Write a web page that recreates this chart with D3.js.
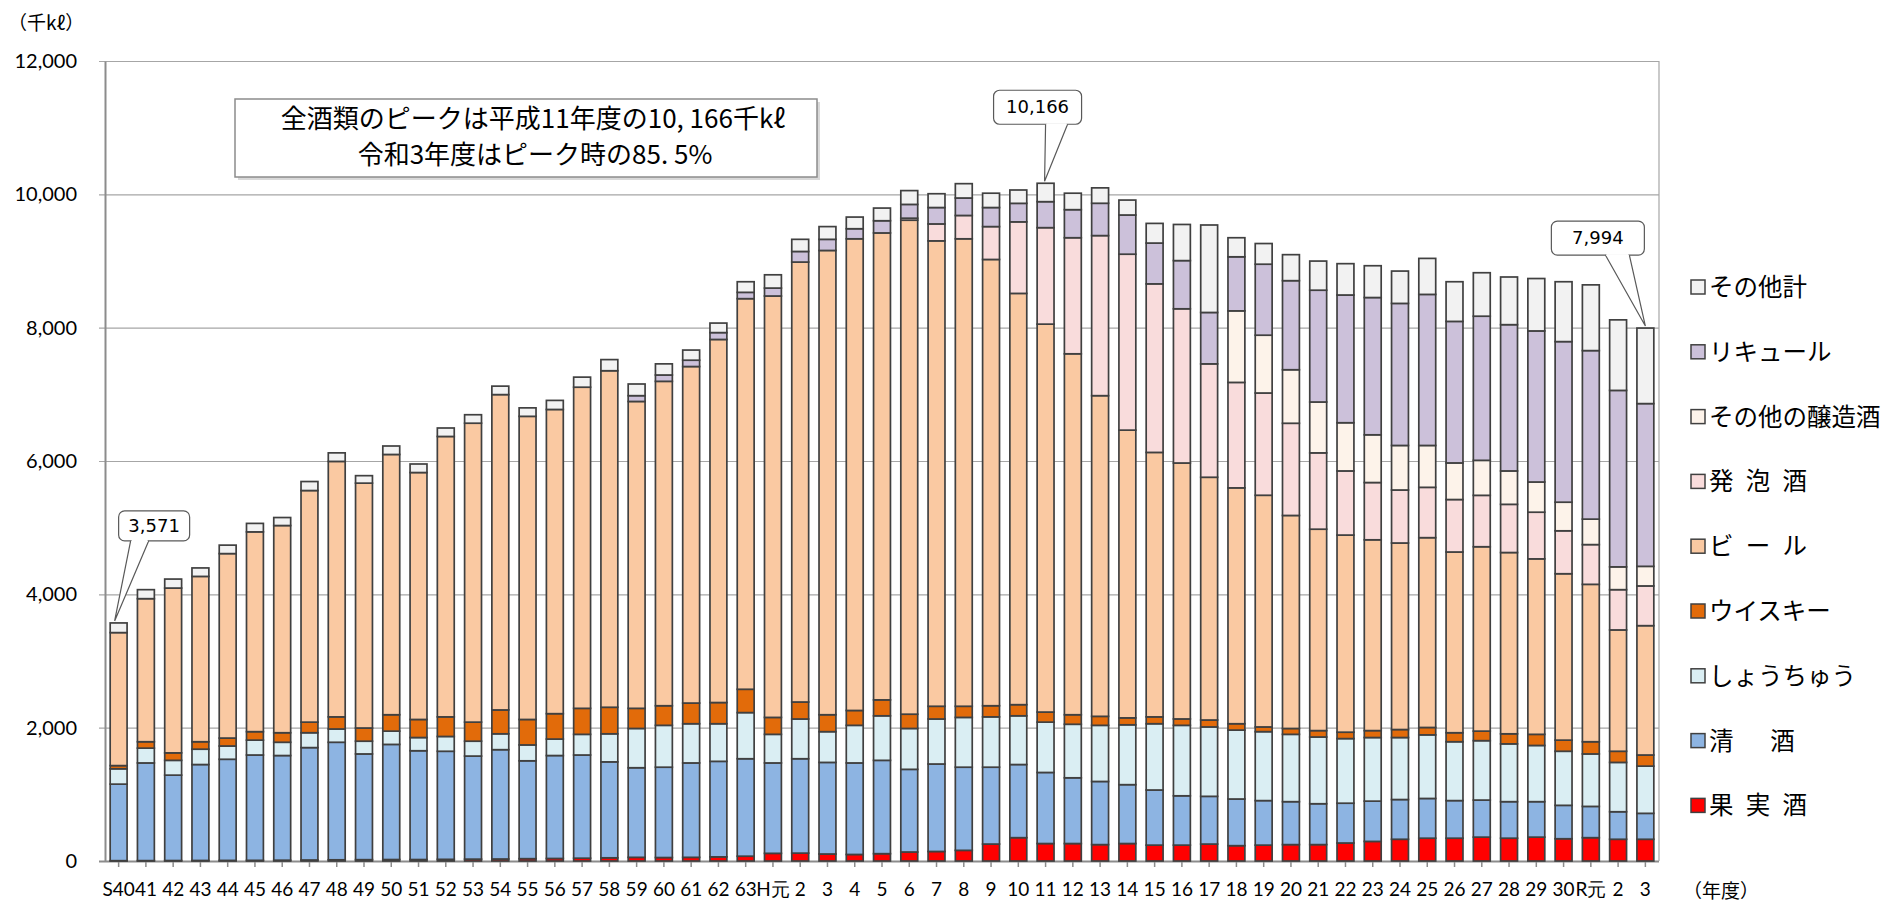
<!DOCTYPE html>
<html>
<head>
<meta charset="utf-8">
<script src="https://cdn.jsdelivr.net/npm/d3@7"></script>
<style>
body { margin: 0; background: #fff; }
svg text { font-family: "Noto Sans CJK JP", "Noto Sans", sans-serif; fill: #000; }
.num { font-family: Lato, "Liberation Sans", sans-serif; }
</style>
</head>
<body>
<div id="chart"></div>
<script>
// 年度ラベル (S40 ～ R3)
var years = ["S40","41","42","43","44","45","46","47","48","49","50","51","52","53","54","55","56","57","58","59","60","61","62","63",
    "H元","2","3","4","5","6","7","8","9","10","11","12","13","14","15","16","17","18","19","20","21","22","23","24","25","26","27","28","29","30",
    "R元","2","3"];

// 各酒類の数量 (千kl)
var kajitsushu = [5,6,7,8,9,10,12,15,18,20,22,22,25,28,30,35,38,42,48,55,52,55,62,72,
    115,118,105,98,110,135,143,160,254,350,262,262,246,262,238,238,254,230,238,246,246,270,294,326,342,342,358,342,358,334,
    350,326,326];
var seishu = [1148,1465,1281,1439,1517,1580,1570,1686,1763,1586,1727,1632,1621,1546,1640,1468,1544,1548,1439,1344,1355,1416,1433,1462,
    1356,1416,1374,1373,1400,1240,1312,1247,1153,1097,1066,986,947,883,827,740,716,700,668,644,613,597,604,596,596,564,556,548,532,501,
    469,413,389];
var shochu = [230,222,222,230,199,223,199,223,199,191,199,198,222,223,238,238,247,310,421,589,628,588,564,692,
    429,596,461,564,668,613,675,747,755,731,755,803,842,898,994,1057,1041,1034,1034,1010,1001,969,954,930,954,883,891,867,843,811,
    787,740,708];
var whisky = [48,96,112,112,119,127,143,159,182,198,246,271,294,286,358,382,381,390,398,302,294,310,318,350,
    254,255,254,223,239,214,191,167,167,167,151,143,135,104,103,96,104,95,71,88,96,96,104,120,111,135,143,151,167,167,
    183,167,167];
var beer = [1995,2146,2472,2480,2767,2997,3108,3474,3832,3673,3904,3704,4206,4484,4730,4547,4563,4817,5048,4603,4866,5048,5446,5859,
    6321,6599,6964,7075,7004,7410,6981,7012,6694,6169,5819,5414,4810,4316,3967,3839,3641,3538,3475,3195,3021,2957,2862,2798,2847,2711,2766,2719,2632,2496,
    2361,1820,1940];
var happoshu = [0,0,0,0,0,0,0,0,0,0,0,0,0,0,0,0,0,0,0,0,0,0,0,0,
    0,0,0,0,0,30,254,350,493,1073,1447,1741,2401,2639,2528,2313,1701,1582,1534,1383,1145,962,859,795,755,787,771,723,700,644,
    596,604,596];
var jozoshu = [0,0,0,0,0,0,0,0,0,0,0,0,0,0,0,0,0,0,0,0,0,0,0,0,
    0,0,0,0,0,0,0,0,0,0,0,0,0,0,0,0,0,1073,867,803,763,723,716,668,628,549,525,501,453,429,
    382,342,294];
var liqueur = [0,0,0,0,0,0,0,0,0,0,0,0,0,0,0,0,0,0,0,87,95,95,103,95,
    119,159,167,151,183,207,246,262,286,278,390,421,485,588,612,723,771,811,1065,1336,1677,1916,2059,2131,2266,2123,2162,2194,2266,2409,
    2528,2647,2441];
var sonota = [145,135,135,127,127,127,120,135,128,112,127,128,127,127,127,127,136,151,167,175,167,152,143,159,
    199,182,191,175,190,207,207,215,215,200,276,247,231,224,295,542,1312,286,310,390,437,470,477,485,540,595,652,715,786,898,
    986,1058,1133];

var yTicks = [0, 2000, 4000, 6000, 8000, 10000, 12000];

// 積み上げ順 (下から)
var series = [
    { key: "kajitsushu", name: "果\u2002実\u2002酒", values: kajitsushu, color: "#ff0000" },
    { key: "seishu", name: "清\u3000\u2002酒", values: seishu, color: "#8db4e2" },
    { key: "shochu", name: "しょうちゅう", values: shochu, color: "#daeef3" },
    { key: "whisky", name: "ウイスキー", values: whisky, color: "#e26b0a" },
    { key: "beer", name: "ビ\u2002ー\u2002ル", values: beer, color: "#fac9a2" },
    { key: "happoshu", name: "発\u2002泡\u2002酒", values: happoshu, color: "#f9dcdc" },
    { key: "jozoshu", name: "その他の醸造酒", values: jozoshu, color: "#fdf3ea" },
    { key: "liqueur", name: "リキュール", values: liqueur, color: "#ccc1da" },
    { key: "sonota", name: "その他計", values: sonota, color: "#f2f2f2" }
];

var W = 1883, H = 904;
var m = { left: 105, top: 61, right: 1659, bottom: 861 };

var svg = d3.select("#chart").append("svg").attr("width", W).attr("height", H);

var rows = years.map(function (y, i) {
    var r = { i: i, label: y };
    series.forEach(function (s) { r[s.key] = s.values[i]; });
    return r;
});

var x = d3.scaleBand().domain(d3.range(years.length)).range([m.left, m.right]).paddingInner(0.38).paddingOuter(0.19);
var y = d3.scaleLinear().domain([0, 12000]).range([m.bottom, m.top]);

// grid
svg.append("g").selectAll("line").data(yTicks).enter().append("line")
    .attr("x1", m.left - 6).attr("x2", m.right)
    .attr("y1", function (d) { return y(d) + 0.5; }).attr("y2", function (d) { return y(d) + 0.5; })
    .attr("stroke", function (d) { return d === 0 ? "#8c8c8c" : "#a6a6a6"; })
    .attr("stroke-width", function (d) { return d === 0 ? 2 : 1.2; });
// right frame
svg.append("line").attr("x1", m.right).attr("x2", m.right).attr("y1", m.top).attr("y2", m.bottom)
    .attr("stroke", "#a6a6a6").attr("stroke-width", 1.2);

// y axis
var yAxis = d3.axisLeft(y).tickValues(yTicks).tickFormat(d3.format(",")).tickSize(0).tickPadding(28);
var ga = svg.append("g").attr("transform", "translate(" + m.left + ",0)").call(yAxis);
ga.select(".domain").attr("stroke", "#8c8c8c").attr("stroke-width", 2);
ga.selectAll("text").attr("class", "num").style("font-size", "20px").attr("fill", "#000");

// x axis
var xAxis = d3.axisBottom(x).tickFormat(function (i) { return years[i]; }).tickSize(6).tickPadding(16);
var gx = svg.append("g").attr("transform", "translate(0," + m.bottom + ")").call(xAxis);
gx.select(".domain").remove();
gx.selectAll(".tick line").attr("stroke", "#8c8c8c").attr("stroke-width", 1.5);
gx.selectAll("text").attr("class", "num").style("font-size", "19px").attr("fill", "#000");

// stacked bars
var stack = d3.stack().keys(series.map(function (s) { return s.key; }));
var layers = stack(rows);

svg.append("g").selectAll("g").data(layers).enter().append("g")
    .attr("fill", function (d, k) { return series[k].color; })
    .selectAll("rect").data(function (d) { return d.filter(function (p) { return p[1] - p[0] > 0; }); })
    .enter().append("rect")
    .attr("x", function (d) { return x(d.data.i); })
    .attr("width", x.bandwidth())
    .attr("y", function (d) { return y(d[1]); })
    .attr("height", function (d) { return y(d[0]) - y(d[1]); })
    .attr("stroke", "#404040").attr("stroke-width", 1.7);

// units
svg.append("text").attr("x", 8).attr("y", 30).style("font-size", "19px").text("（千kℓ）");
svg.append("text").attr("x", 1683).attr("y", 898).style("font-size", "19px").text("（年度）");

// message box
svg.append("rect").attr("x", 238).attr("y", 102).attr("width", 582).attr("height", 78).attr("fill", "#d9d9d9");
svg.append("rect").attr("x", 235).attr("y", 99).attr("width", 582).attr("height", 78)
    .attr("fill", "#fff").attr("stroke", "#8c8c8c").attr("stroke-width", 1.5);
svg.append("text").attr("x", 533).attr("y", 128).attr("text-anchor", "middle").style("font-size", "26px")
    .text("全酒類のピークは平成11年度の10, 166千kℓ");
svg.append("text").attr("x", 535).attr("y", 164).attr("text-anchor", "middle").style("font-size", "26px")
    .text("令和3年度はピーク時の85. 5%");

// callouts for totals
var totals = rows.map(function (r) { return d3.sum(series, function (s) { return r[s.key]; }); });
var callouts = [
    { i: 0, bx: 0, by: -112, w: 71, h: 30, t1: 12, t2: 30, tip: -4 },
    { i: 34, bx: -52, by: -93, w: 88, h: 34, t1: 52, t2: 74, tip: -1 },
    { i: 56, bx: -94, by: -107, w: 93, h: 34, t1: 54, t2: 78, tip: 0 }
];
callouts.forEach(function (c) {
    var cx = x(c.i) + x.bandwidth() / 2;
    var top = y(totals[c.i]);
    var bl = cx + c.bx, bt = top + c.by;
    var g = svg.append("g");
    g.append("rect").attr("x", bl).attr("y", bt).attr("width", c.w).attr("height", c.h).attr("rx", 6)
        .attr("fill", "#fff").attr("stroke", "#595959").attr("stroke-width", 1.2);
    g.append("path")
        .attr("d", "M" + (bl + c.t1) + "," + (bt + c.h) + "L" + (cx + c.tip) + "," + (top - 2) + "L" + (bl + c.t2) + "," + (bt + c.h))
        .attr("fill", "#fff").attr("stroke", "#595959").attr("stroke-width", 1.2);
    g.append("line").attr("x1", bl + c.t1 + 1).attr("x2", bl + c.t2 - 1)
        .attr("y1", bt + c.h).attr("y2", bt + c.h).attr("stroke", "#fff").attr("stroke-width", 2);
    g.append("text").attr("class", "num").attr("x", bl + c.w / 2).attr("y", bt + c.h / 2 + 6)
        .attr("text-anchor", "middle").style("font-size", "18px").style("font-family", "'DejaVu Sans', sans-serif")
        .text(d3.format(",")(totals[c.i]));
});

// legend (上から その他計 … 果実酒)
var legend = svg.append("g").selectAll("g").data(series.slice().reverse()).enter().append("g")
    .attr("transform", function (d, k) { return "translate(1691," + (287 + k * 64.8) + ")"; });
legend.append("rect").attr("x", 0).attr("y", -7).attr("width", 14).attr("height", 14)
    .attr("fill", function (d) { return d.color; }).attr("stroke", "#404040").attr("stroke-width", 1.5);
legend.append("text").attr("x", 18).attr("y", 9).style("font-size", "24.5px").style("white-space", "pre")
    .text(function (d) { return d.name; });
</script>
</body>
</html>
